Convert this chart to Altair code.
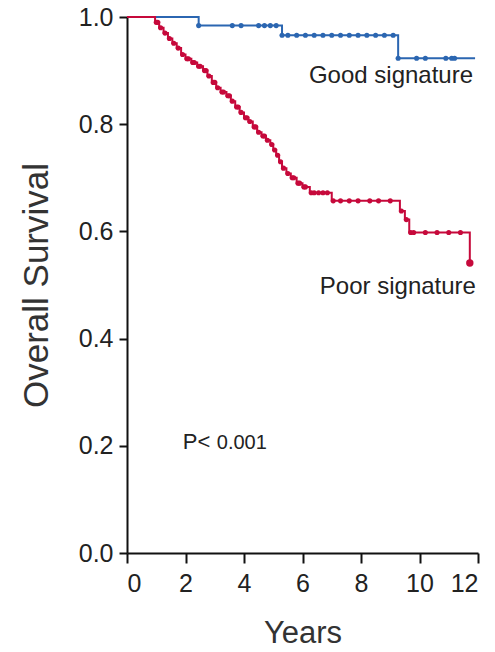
import altair as alt
import pandas as pd
import numpy as np

# Kaplan-Meier step data (time in years, survival after event)
good_time = [0.0, 2.45, 5.3, 9.27, 11.9]
good_surv = [1.0, 0.984, 0.966, 0.923, 0.923]
good_censor = [2.45, 3.6, 3.9, 4.5, 4.7, 4.9, 5.1, 5.3, 5.5, 5.8, 6.1, 6.4, 6.7, 7.0, 7.3,
               7.6, 7.9, 8.2, 8.5, 8.8, 9.1, 9.27, 9.9, 10.2, 10.9, 11.1, 11.2]

poor_time = [0.0, 0.96, 1.1, 1.25, 1.4, 1.55, 1.7, 1.85, 2.0, 2.2, 2.4, 2.6, 2.75, 2.9,
             3.05, 3.2, 3.4, 3.55, 3.7, 3.85, 4.0, 4.15, 4.3, 4.45, 4.6, 4.75, 4.9, 5.0,
             5.1, 5.2, 5.3, 5.45, 5.6, 5.8, 6.0, 6.25, 7.0, 9.33, 9.5, 9.65, 11.72]
poor_surv = [1.0, 0.99, 0.98, 0.97, 0.96, 0.951, 0.942, 0.93, 0.922, 0.915, 0.908, 0.9,
             0.89, 0.878, 0.868, 0.86, 0.853, 0.843, 0.832, 0.822, 0.812, 0.805, 0.795,
             0.785, 0.778, 0.77, 0.762, 0.752, 0.742, 0.73, 0.718, 0.708, 0.7, 0.69,
             0.683, 0.672, 0.657, 0.638, 0.622, 0.598, 0.541]
poor_censor = [1.0, 1.05, 1.15, 1.3, 1.45, 1.6, 1.75, 1.9, 2.05, 2.1, 2.25, 2.3, 2.45, 2.5,
               2.65, 2.7, 2.8, 2.95, 3.0, 3.1, 3.25, 3.3, 3.45, 3.5, 3.6, 3.75, 3.8, 3.9,
               4.05, 4.1, 4.2, 4.35, 4.4, 4.5, 4.65, 4.7, 4.8, 4.95, 5.05, 5.15, 5.25,
               5.35, 5.5, 5.65, 5.7, 5.85, 5.9, 6.05, 6.1, 6.3, 6.4, 6.55, 6.7, 6.85, 7.05,
               7.3, 7.6, 7.9, 8.3, 8.6, 9.0, 9.38, 9.55, 9.7, 9.8, 10.2, 10.6, 11.0, 11.4]
poor_last = [11.72]

groups = ["Good signature", "Poor signature"]
colors = ["#2b66b1", "#c6093b"]

def surv_at(times, survs, t):
    idx = np.searchsorted(times, t, side="right") - 1
    return survs[idx]

line_rows = []
for g, tt, ss in [(groups[0], good_time, good_surv), (groups[1], poor_time, poor_surv)]:
    for t, s in zip(tt, ss):
        line_rows.append({"group": g, "time": t, "surv": s})
line_df = pd.DataFrame(line_rows)

pt_rows = []
for g, tt, ss, cc in [(groups[0], good_time, good_surv, good_censor),
                      (groups[1], poor_time, poor_surv, poor_censor)]:
    for t in cc:
        pt_rows.append({"group": g, "time": t, "surv": surv_at(tt, ss, t)})
pt_df = pd.DataFrame(pt_rows)
last_df = pd.DataFrame([{"group": groups[1], "time": t, "surv": surv_at(poor_time, poor_surv, t)}
                        for t in poor_last])

ann_df = pd.DataFrame({
    "text": ["Good signature", "Poor signature"],
    "time": [11.83, 11.93],
    "surv": [0.89, 0.497],
})
p_df = pd.DataFrame({"text": ["P<", "0.001"], "time": [1.91, 3.07], "surv": [0.207, 0.205],
                     "size": [22, 20]})

FONT = "Liberation Sans"
xs = alt.X("time:Q", scale=alt.Scale(domain=[0, 12], nice=False),
           axis=alt.Axis(values=[0, 2, 4, 6, 8, 10, 12], title="Years"))
ys = alt.Y("surv:Q", scale=alt.Scale(domain=[0, 1], nice=False),
           axis=alt.Axis(values=[0, 0.2, 0.4, 0.6, 0.8, 1.0], format=".1f",
                         title="Overall Survival"))
col = alt.Color("group:N", scale=alt.Scale(domain=groups, range=colors), legend=None)

lines = alt.Chart(line_df).mark_line(interpolate="step-after", strokeWidth=2).encode(
    x=xs, y=ys, color=col)
pts = alt.Chart(pt_df).mark_circle(size=26, opacity=1).encode(x=xs, y=ys, color=col)
last = alt.Chart(last_df).mark_circle(size=55, opacity=1).encode(x=xs, y=ys, color=col)
ann = alt.Chart(ann_df).mark_text(align="right", baseline="middle", fontSize=24,
                                  font=FONT, color="#222222").encode(
    x=xs, y=ys, text="text:N")
ptxt = alt.Chart(p_df).mark_text(align="left", baseline="middle", font=FONT,
                                 color="#222222").encode(
    x=xs, y=ys, text="text:N", size=alt.Size("size:Q", scale=None, legend=None))

chart = alt.layer(lines, pts, last, ann, ptxt).properties(
    width=351, height=536,
    autosize=alt.AutoSizeParams(type="none"),
    padding={"left": 127, "top": 17, "right": 17, "bottom": 99},
).configure_view(stroke=None).configure_axis(
    grid=False, domainColor="#111111", domainWidth=2, tickColor="#111111", tickWidth=2,
    labelFont=FONT, labelFontSize=25, labelColor="#222222",
    titleFont=FONT, titleColor="#333333", titleFontWeight="normal",
).configure_axisX(tickSize=10, labelPadding=8, titleFontSize=31, titlePadding=22
).configure_axisY(tickSize=8, labelPadding=6, titleFontSize=35, titlePadding=24)

chart.save("out.html", embed_options={"renderer": "svg", "actions": False})
